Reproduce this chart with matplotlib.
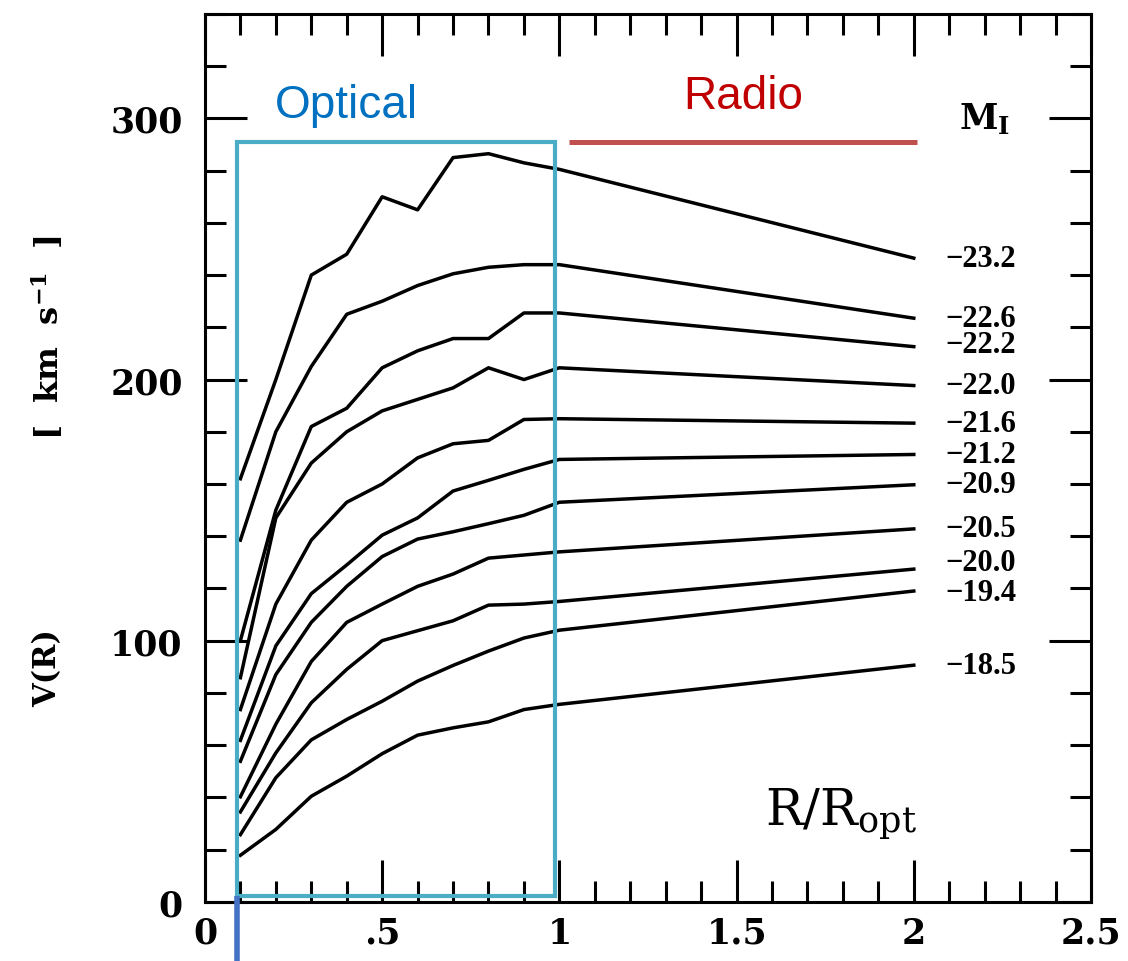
import matplotlib.pyplot as plt
from matplotlib.patches import Rectangle
from matplotlib.ticker import MultipleLocator

plt.rcParams['font.family'] = ['DejaVu Serif']

# R / R_opt sample points
radius = [0.1, 0.2, 0.3, 0.4, 0.5, 0.6, 0.7, 0.8, 0.9, 1.0, 2.0]

# I-band absolute magnitude for each curve
mag_labels = ['23.2', '22.6', '22.2', '22.0', '21.6', '21.2',
              '20.9', '20.5', '20.0', '19.4', '18.5']

# V(R) in km/s
v_232 = [162, 200, 240, 248, 270, 265, 285, 286.5, 283, 280.5, 246.5]
v_226 = [138.5, 180, 205, 225, 230, 236, 240.5, 243, 244, 244, 223.5]
v_222 = [100, 150, 182, 189, 204.5, 211, 215.7, 215.7, 225.5, 225.5, 212.6]
v_220 = [85.8, 147, 168, 180, 188, 192.4, 196.8, 204.5, 200, 204.5, 197.7]
v_216 = [73.6, 114, 138.5, 153, 160, 170, 175.4, 176.7, 184.7, 185, 183.3]
v_212 = [61.8, 98, 118, 129, 140.4, 147, 157.3, 161.4, 165.6, 169.4, 171.3]
v_209 = [53.8, 87, 107, 120.8, 132.2, 138.9, 141.7, 144.8, 148, 153, 159.7]
v_205 = [40.2, 68, 92, 107, 114, 120.8, 125.5, 131.6, 132.8, 134, 142.8]
v_200 = [34.4, 57, 76.2, 89, 100, 103.8, 107.6, 113.6, 114, 115, 127.4]
v_194 = [25.7, 47.5, 62, 69.8, 76.8, 84.5, 90.5, 96, 101, 104, 119]
v_185 = [17.8, 27.7, 40.4, 48.1, 56.7, 63.8, 66.6, 68.9, 73.6, 75.6, 90.6]

curves = [v_232, v_226, v_222, v_220, v_216, v_212,
          v_209, v_205, v_200, v_194, v_185]

# small vertical nudges so the crowded labels stay apart
label_nudge = {'20.0': 2.5, '19.4': -0.5, '22.2': 0.8}

fig = plt.figure(figsize=(11.28, 9.62), dpi=100)
ax = fig.add_axes([0.1817, 0.0616, 0.7855, 0.9228])

for v, lab in zip(curves, mag_labels):
    ax.plot(radius, v, color='black', lw=2.5)
    ax.text(2.09, v[-1] + label_nudge.get(lab, 0), '\u2212' + lab, fontsize=22,
            fontweight='bold', family='Liberation Serif', ha='left', va='center')

ax.text(2.2, 300, r'$\mathbf{M_I}$', fontsize=25, ha='center', va='center',
        math_fontfamily='dejavuserif')
ax.text(1.795, 34, r'$\mathrm{R/R_{opt}}$', fontsize=36, ha='center', va='center',
        math_fontfamily='dejavuserif')

# optical / radio annotations
ax.add_patch(Rectangle((0.09, 2.2), 0.897, 288.8, fill=False,
                       edgecolor='#4BACC6', lw=3, zorder=5, clip_on=False))
ax.plot([0.09, 0.09], [2.2, -24], color='#4472C4', lw=4, clip_on=False,
        solid_capstyle='butt', zorder=5)
ax.plot([1.027, 2.008], [291, 291], color='#C0504D', lw=3.6,
        solid_capstyle='butt', zorder=5)
ax.text(0.398, 305, 'Optical', fontsize=33, color='#0070C0',
        family='Liberation Sans', ha='center', va='center')
ax.text(1.518, 308.5, 'Radio', fontsize=33, color='#C00000',
        family='Liberation Sans', ha='center', va='center')

ax.set_xlim(0, 2.5)
ax.set_ylim(0, 340)
ax.set_xticks([0, 0.5, 1, 1.5, 2, 2.5])
ax.set_xticklabels(['0', '.5', '1', '1.5', '2', '2.5'])
ax.set_yticks([0, 100, 200, 300])
ax.xaxis.set_minor_locator(MultipleLocator(0.1))
ax.yaxis.set_minor_locator(MultipleLocator(20))
ax.tick_params(which='both', direction='in', top=True, right=True,
               width=2.2, labelsize=25)
ax.tick_params(which='major', length=30)
ax.tick_params(which='minor', length=15)
ax.tick_params(axis='x', pad=10)
ax.tick_params(axis='y', pad=16)
for lbl in ax.get_xticklabels() + ax.get_yticklabels():
    lbl.set_fontweight('bold')
for sp in ax.spines.values():
    sp.set_linewidth(2.2)

fig.text(48 / 1128, 1 - 668 / 962, 'V(R)', fontsize=22, rotation=90,
         ha='center', va='center', fontweight='bold')
fig.text(48 / 1128, 1 - 338 / 962, r'[  km  s$^{\mathbf{-1}}$  ]', fontsize=23,
         rotation=90, ha='center', va='center', fontweight='bold',
         math_fontfamily='dejavuserif')

fig.savefig('out.png', dpi=100)
